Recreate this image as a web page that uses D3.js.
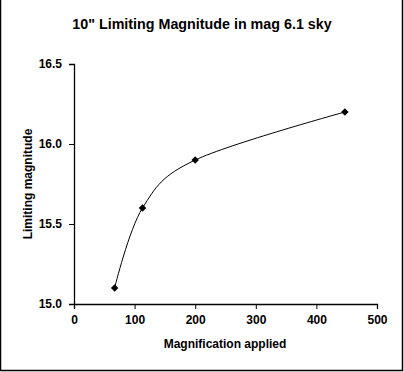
<!DOCTYPE html>
<html>
<head>
<meta charset="utf-8">
<script src="https://cdn.jsdelivr.net/npm/d3@7"></script>
<style>
  body { margin: 0; background: #fff; }
  text { font-family: "Liberation Sans", Arial, sans-serif; font-weight: bold; fill: #000; }
</style>
</head>
<body>
<svg id="chart" width="404" height="372"></svg>
<script>
// chart data
const magnification = [67, 113, 200, 447];
const limitingMag = [15.1, 15.6, 15.9, 16.2];
const xTicks = [0, 100, 200, 300, 400, 500];
const yTicks = [15.0, 15.5, 16.0, 16.5];

const svg = d3.select("#chart");

// outer frame (left, right, bottom)
svg.append("path")
  .attr("d", "M0.5,0 V370.5 H402.5 V0")
  .attr("fill", "none")
  .attr("stroke", "#000")
  .attr("stroke-width", 1.5);

const x = d3.scaleLinear().domain([0, 500]).range([74, 377]);
const y = d3.scaleLinear().domain([15, 16.5]).range([304, 64]);

// title
svg.append("text")
  .attr("x", 202).attr("y", 29)
  .attr("text-anchor", "middle")
  .style("font-size", "14.3px")
  .text('10" Limiting Magnitude in mag 6.1 sky');

// axes
const xAxis = svg.append("g")
  .attr("transform", "translate(0,304)")
  .call(d3.axisBottom(x).tickValues(xTicks).tickSize(5).tickPadding(6).tickFormat(d3.format("d")));
const yAxis = svg.append("g")
  .attr("transform", "translate(74,0)")
  .call(d3.axisLeft(y).tickValues(yTicks).tickSize(5).tickPadding(7).tickFormat(d3.format(".1f")));

[xAxis, yAxis].forEach(a => {
  a.select(".domain").attr("stroke", "#000").attr("stroke-width", 1.3);
  a.selectAll(".tick line").attr("stroke", "#000");
  a.selectAll("text").style("font-size", "12px").style("font-family", "'Liberation Sans', Arial, sans-serif").style("font-weight", "bold");
});

// axis titles
svg.append("text")
  .attr("x", 225).attr("y", 348)
  .attr("text-anchor", "middle")
  .style("font-size", "12px")
  .text("Magnification applied");

svg.append("text")
  .attr("transform", "translate(32,184) rotate(-90)")
  .attr("text-anchor", "middle")
  .style("font-size", "12px")
  .text("Limiting magnitude");

// smoothed line
const pts = magnification.map((m, i) => [m, limitingMag[i]]);
const line = d3.line()
  .x(d => x(d[0]))
  .y(d => y(d[1]))
  .curve(d3.curveCardinal.tension(0));

svg.append("path")
  .datum(pts)
  .attr("d", line)
  .attr("fill", "none")
  .attr("stroke", "#000")
  .attr("stroke-width", 1);

// diamond markers
svg.selectAll(".marker")
  .data(pts)
  .enter().append("path")
  .attr("class", "marker")
  .attr("d", d3.symbol().type(d3.symbolSquare).size(28))
  .attr("transform", d => "translate(" + x(d[0]) + "," + y(d[1]) + ") rotate(45)")
  .attr("fill", "#000");
</script>
</body>
</html>
